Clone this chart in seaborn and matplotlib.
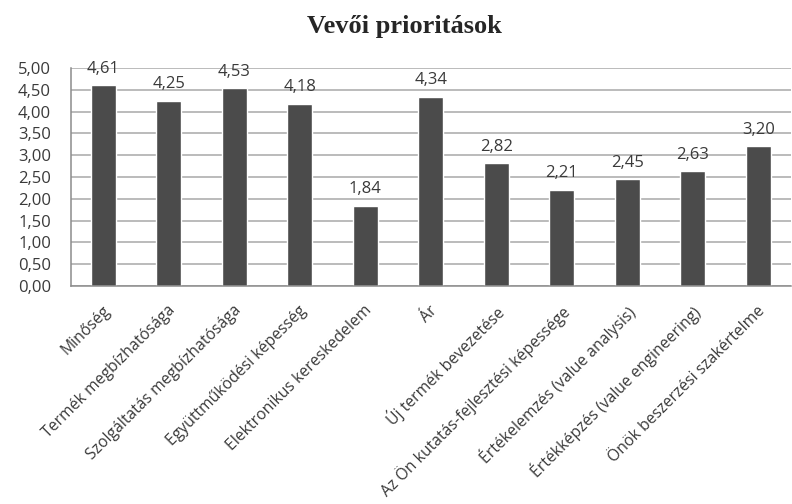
import matplotlib
matplotlib.use("Agg")
import matplotlib.pyplot as plt
import seaborn as sns
import pandas as pd

categories = [
    "Minőség",
    "Termék megbízhatósága",
    "Szolgáltatás megbízhatósága",
    "Együttműködési képesség",
    "Elektronikus kereskedelem",
    "Ár",
    "Új termék bevezetése",
    "Az Ön kutatás-fejlesztési képessége",
    "Értékelemzés (value analysis)",
    "Értékképzés (value engineering)",
    "Önök beszerzési szakértelme",
]
scores = [4.61, 4.25, 4.53, 4.18, 1.84, 4.34, 2.82, 2.21, 2.45, 2.63, 3.20]
yticks = [0.0, 0.5, 1.0, 1.5, 2.0, 2.5, 3.0, 3.5, 4.0, 4.5, 5.0]

sns.set_style("white")
plt.rcParams["font.family"] = ["Open Sans", "DejaVu Sans"]

TEXT = "#3a3a3a"
AXIS = "#8c8c8c"

df = pd.DataFrame({"kategoria": categories, "ertek": scores})

fig = plt.figure(figsize=(7.92, 5.04), dpi=100)
W, H = 792, 504
left, right, top, bottom = 70.5, 791.0, 68.0, 286.0
ax = fig.add_axes([left / W, 1 - bottom / H, (right - left) / W, (bottom - top) / H])

sns.barplot(data=df, x="kategoria", y="ertek", color="#4b4b4b",
            width=0.38, saturation=1, ax=ax)

ax.set_ylim(0, 5.0)
ax.set_xlim(-0.5, len(categories) - 0.5)
ax.set_yticks(yticks)
ax.set_yticklabels([f"{v:.2f}".replace(".", ",") for v in yticks],
                   fontsize=12, color=TEXT)
ax.yaxis.grid(True, color="#a8a8a8", linewidth=1.1)
ax.set_axisbelow(True)
ax.set_xlabel("")
ax.set_ylabel("")

for side in ("top", "right"):
    ax.spines[side].set_visible(False)
for side in ("left", "bottom"):
    ax.spines[side].set_color(AXIS)
    ax.spines[side].set_linewidth(1.1)

# category ticks sit between the bars
ax.set_xticks([i - 0.5 for i in range(len(categories) + 1)])
ax.set_xticklabels([])
ax.tick_params(axis="x", length=4, width=1.1, color=AXIS, direction="out")
ax.tick_params(axis="y", length=4, width=1.1, color=AXIS, direction="out", pad=10)

for i, name in enumerate(categories):
    ax.annotate(name, xy=(i, 0), xycoords=("data", "axes fraction"),
                xytext=(-1, -12), textcoords="offset points",
                rotation=45, ha="right", va="top", rotation_mode="anchor",
                fontsize=11.3, color=TEXT)

for i, v in enumerate(scores):
    ax.annotate(f"{v:.2f}".replace(".", ","), xy=(i, v),
                xytext=(0, 6), textcoords="offset points",
                ha="center", va="bottom", fontsize=12, color=TEXT)

fig.text(404 / W, 1 - 26 / H, "Vevői prioritások", ha="center", va="center",
         fontsize=19, fontweight="bold", family="Liberation Serif")

fig.savefig("out.png", dpi=100, facecolor="white")
